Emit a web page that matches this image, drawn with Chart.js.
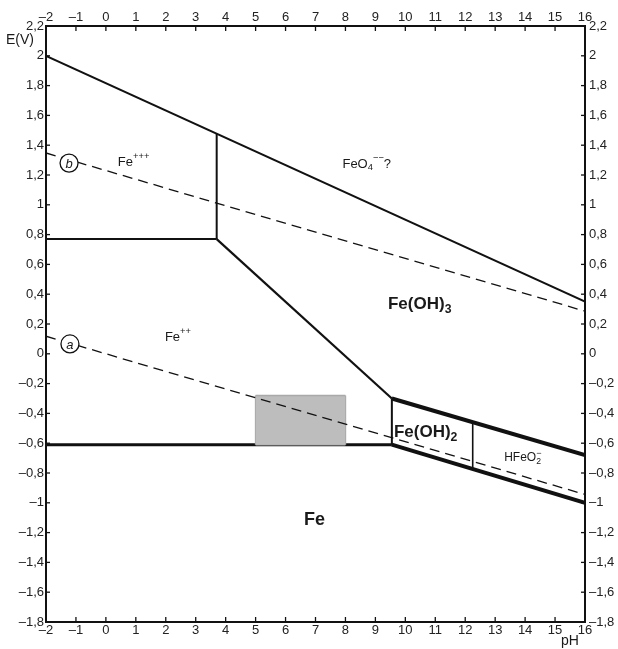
<!DOCTYPE html>
<html>
<head>
<meta charset="utf-8">
<script src="https://cdn.jsdelivr.net/npm/chart.js@4/dist/chart.umd.min.js"></script>
<style>
  html, body { margin: 0; padding: 0; background: #fff; }
  canvas { display: block; }
</style>
</head>
<body>
<canvas id="pourbaix" width="618" height="649"></canvas>
<script>
// pH ends of the long sloping lines
const phRange = [-2, 16];
// water stability lines (dashed): b = O2, a = H2
const oxygenLineE = [1.348, 0.286];
const hydrogenLineE = [0.118, -0.944];
// upper solid limit (FeO4-- ?)
const upperLimitE = [2.0, 0.35];

// Fe+++ / Fe++
const ferricPH = [-2, 3.7];
const ferricE = [0.77, 0.77];
// Fe+++ / Fe(OH)3
const ferricWallPH = [3.7, 3.7];
const ferricWallE = [0.77, 1.477];
// Fe++ / Fe(OH)3
const ferrousOxPH = [3.7, 9.55];
const ferrousOxE = [0.77, -0.30];
// Fe / Fe++
const ironPH = [-2, 9.55];
const ironE = [-0.61, -0.61];
// Fe++ / Fe(OH)2
const hydroxWallPH = [9.55, 9.55];
const hydroxWallE = [-0.30, -0.61];
// Fe(OH)3 / Fe(OH)2 , HFeO2-
const hydroxTopPH = [9.55, 16];
const hydroxTopE = [-0.30, -0.68];
// Fe / Fe(OH)2 , HFeO2-
const hydroxBottomPH = [9.55, 16];
const hydroxBottomE = [-0.61, -1.0];
// Fe(OH)2 / HFeO2-
const hfeoWallPH = [12.25, 12.25];
const hfeoWallE = [-0.459, -0.775];

// shaded zone
const boxPH = [5, 8];
const boxTopE = [-0.28, -0.28];
const boxBottomE = [-0.61, -0.61];

// axis ticks
const phTicks = [-2, 16, 1];
const eTicks = [-1.8, 2.2, 0.2];

function pts(xs, ys) {
    return xs.map((x, i) => ({ x: x, y: ys[i] }));
}

function seg(xs, ys, width, dash, order, color) {
    return {
        data: pts(xs, ys),
        borderColor: color || '#111',
        borderWidth: width,
        borderDash: dash || [],
        pointRadius: 0,
        showLine: true,
        fill: false,
        order: order || 1
    };
}

function fmt(v) {
    const s = String(+v.toFixed(1)).replace('.', ',');
    return s.replace('-', '\u2013');
}

const datasets = [
    seg(phRange, upperLimitE, 2),
    seg(phRange, oxygenLineE, 1.3, [10, 6], 0),
    seg(phRange, hydrogenLineE, 1.3, [10, 6], 0),
    seg(ferricPH, ferricE, 2),
    seg(ferricWallPH, ferricWallE, 2),
    seg(ferrousOxPH, ferrousOxE, 2.2),
    seg(ironPH, ironE, 3, [], 3),
    seg(hydroxWallPH, hydroxWallE, 2),
    seg(hydroxTopPH, hydroxTopE, 4),
    seg(hydroxBottomPH, hydroxBottomE, 4),
    seg(hfeoWallPH, hfeoWallE, 1.6),
    {
        data: pts(boxPH, boxTopE),
        borderColor: '#a9a9a9',
        borderWidth: 1.5,
        backgroundColor: '#bdbdbd',
        pointRadius: 0,
        showLine: true,
        fill: '+1',
        order: 2
    },
    seg(boxPH, boxBottomE, 1.5, [], 2, '#a9a9a9'),
    // short sides of the grey box
    seg([boxPH[0], boxPH[0]], [boxTopE[0], boxBottomE[0]], 1.5, [], 2, '#a9a9a9'),
    seg([boxPH[1], boxPH[1]], [boxTopE[1], boxBottomE[1]], 1.5, [], 2, '#a9a9a9')
];

const tickFont = { family: 'Liberation Sans', size: 13 };

function xAxis(pos, h) {
    return {
        type: 'linear', position: pos, min: phTicks[0], max: phTicks[1],
        grid: { display: false, drawTicks: false },
        border: { display: true, color: '#111', width: 2 },
        ticks: { stepSize: phTicks[2], autoSkip: false, maxRotation: 0, padding: 1,
                 color: '#222', font: tickFont, callback: fmt },
        afterFit: s => { s.height = h; }
    };
}

function yAxis(pos, w, pad) {
    return {
        type: 'linear', position: pos, min: eTicks[0], max: eTicks[1],
        grid: { display: false, drawTicks: false },
        border: { display: true, color: '#111', width: 2 },
        ticks: { stepSize: eTicks[2], autoSkip: false, padding: pad,
                 color: '#222', font: tickFont, callback: fmt },
        afterFit: s => { s.width = w; }
    };
}

// inward tick marks
const innerTicks = {
    id: 'innerTicks',
    afterDraw(chart) {
        const ctx = chart.ctx;
        const a = chart.chartArea;
        ctx.save();
        ctx.strokeStyle = '#111';
        ctx.lineWidth = 1.3;
        ['x', 'x2', 'y', 'y2'].forEach(id => {
            const sc = chart.scales[id];
            sc.ticks.forEach(t => {
                const p = sc.getPixelForValue(t.value);
                ctx.beginPath();
                if (id === 'x') { ctx.moveTo(p, a.bottom); ctx.lineTo(p, a.bottom - 5); }
                if (id === 'x2') { ctx.moveTo(p, a.top); ctx.lineTo(p, a.top + 5); }
                if (id === 'y') { ctx.moveTo(a.left, p); ctx.lineTo(a.left + 4, p); }
                if (id === 'y2') { ctx.moveTo(a.right, p); ctx.lineTo(a.right - 4, p); }
                ctx.stroke();
            });
        });
        ctx.restore();
    }
};

// text with sub / superscripts: parts = [text, kind]; returns x of each part
function rich(ctx, x, y, parts, size, weight) {
    let cx = x;
    const xs = [];
    parts.forEach(([t, kind]) => {
        let s = size, dy = 0;
        if (kind === 'sup') { s = size * 0.72; dy = -size * 0.45; }
        if (kind === 'sub') { s = size * 0.72; dy = size * 0.3; }
        ctx.font = weight + ' ' + s + 'px "Liberation Sans"';
        ctx.fillText(t, cx, y + dy);
        xs.push(cx);
        cx += ctx.measureText(t).width;
    });
    return xs;
}

const regionLabels = {
    id: 'regionLabels',
    afterDraw(chart) {
        const ctx = chart.ctx;
        const xs = chart.scales.x, ys = chart.scales.y;
        const X = v => xs.getPixelForValue(v), Y = v => ys.getPixelForValue(v);
        const a = chart.chartArea;
        ctx.save();
        ctx.fillStyle = '#1a1a1a';
        ctx.textBaseline = 'middle';
        ctx.textAlign = 'left';

        rich(ctx, X(0.4), Y(1.285), [['Fe', ''], ['+++', 'sup']], 13, 'normal');
        rich(ctx, X(7.9), Y(1.274), [['FeO', ''], ['4', 'sub'], ['\u2212\u2212', 'sup'], ['?', '']], 13, 'normal');
        rich(ctx, X(1.97), Y(0.113), [['Fe', ''], ['++', 'sup']], 13, 'normal');
        rich(ctx, X(9.42), Y(0.33), [['Fe(OH)', ''], ['3', 'sub']], 17, 'bold');
        rich(ctx, X(9.62), Y(-0.53), [['Fe(OH)', ''], ['2', 'sub']], 17, 'bold');
        const hx = rich(ctx, X(13.3), Y(-0.70), [['HFeO', ''], ['2', 'sub']], 12, 'normal');
        ctx.font = 'normal 9px "Liberation Sans"';
        ctx.fillText('\u2212', hx[1], Y(-0.70) - 5);
        rich(ctx, X(6.62), Y(-1.115), [['Fe', '']], 18, 'bold');

        // circled letters on the water lines
        [['b', -1.23, 1.28], ['a', -1.2, 0.066]].forEach(([t, px, e]) => {
            ctx.beginPath();
            ctx.arc(X(px), Y(e), 9, 0, Math.PI * 2);
            ctx.fillStyle = '#fff';
            ctx.fill();
            ctx.strokeStyle = '#111';
            ctx.lineWidth = 1.3;
            ctx.stroke();
            ctx.fillStyle = '#1a1a1a';
            ctx.textAlign = 'center';
            ctx.font = 'italic 13px "Liberation Sans"';
            ctx.fillText(t, X(px), Y(e) + 1);
            ctx.textAlign = 'left';
        });

        // axis names
        ctx.font = 'normal 14px "Liberation Sans"';
        ctx.textAlign = 'center';
        ctx.fillText('E(V)', a.left - 26, a.top + 14);
        ctx.fillText('pH', a.right - 15, a.bottom + 19);
        ctx.restore();
    }
};

new Chart(document.getElementById('pourbaix').getContext('2d'), {
    type: 'scatter',
    data: { datasets: datasets },
    options: {
        responsive: false,
        animation: false,
        layout: { padding: 0 },
        plugins: { legend: { display: false }, tooltip: { enabled: false } },
        scales: {
            x: xAxis('bottom', 27),
            x2: xAxis('top', 26),
            y: yAxis('left', 46, 2),
            y2: yAxis('right', 33, 4)
        }
    },
    plugins: [innerTicks, regionLabels]
});
</script>
</body>
</html>
